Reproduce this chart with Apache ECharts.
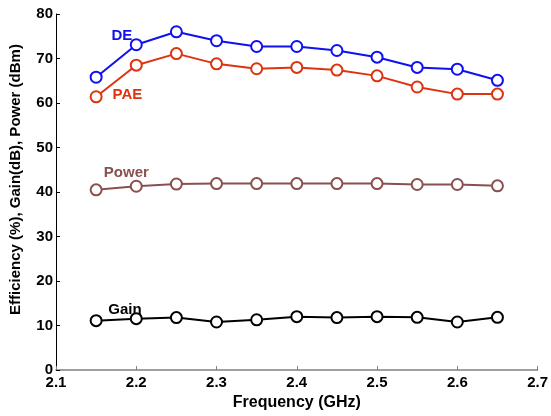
<!DOCTYPE html>
<html>
<head>
<meta charset="utf-8">
<script src="https://cdn.jsdelivr.net/npm/echarts@6/dist/echarts.min.js"></script>
<style>
  html, body { margin: 0; padding: 0; background: #fff; }
  #chart { width: 551px; height: 416px; }
</style>
</head>
<body>
<div id="chart"></div>
<script>
// frequency points (GHz)
const freq = [2.15, 2.2, 2.25, 2.3, 2.35, 2.4, 2.45, 2.5, 2.55, 2.6, 2.65];
// series values
const de    = [65.8, 73.1, 76.0, 74.0, 72.7, 72.7, 71.8, 70.3, 68.0, 67.6, 65.1];
const pae   = [61.4, 68.5, 71.1, 68.8, 67.7, 68.0, 67.4, 66.1, 63.6, 62.0, 62.0];
const power = [40.5, 41.3, 41.8, 41.9, 41.9, 41.9, 41.9, 41.9, 41.7, 41.7, 41.4];
const gain  = [11.1, 11.55, 11.8, 10.8, 11.3, 12.0, 11.8, 12.0, 11.85, 10.8, 11.85];

const seriesNames = ['DE', 'PAE', 'Power', 'Gain'];
const seriesColors = ['#1010f0', '#dd3410', '#8a5050', '#000000'];
// where each in-plot label sits, in data units [freq, value]
const labelPos = [[2.182, 75.2], [2.189, 61.8], [2.1876, 44.4], [2.186, 13.6]];

const font = '"Liberation Sans", Arial, sans-serif';
const chart = echarts.init(document.getElementById('chart'));

const makeSeries = (data, i) => ({
  name: seriesNames[i],
  type: 'line',
  data: freq.map((f, k) => [f, data[k]]),
  symbol: 'emptyCircle',
  symbolSize: 11,
  lineStyle: { width: 2, color: seriesColors[i] },
  itemStyle: { color: seriesColors[i], borderWidth: 2 },
  markPoint: {
    symbol: 'circle',
    symbolSize: 0,
    data: [{ coord: labelPos[i] }],
    label: {
      show: true,
      formatter: seriesNames[i],
      color: seriesColors[i],
      fontFamily: font,
      fontWeight: 'bold',
      fontSize: 15
    }
  },
  z: 4 - i
});

chart.setOption({
  animation: false,
  grid: { left: 56, right: 12, top: 14, bottom: 44 },
  xAxis: {
    type: 'value',
    min: 2.1,
    max: 2.7,
    interval: 0.1,
    name: 'Frequency (GHz)',
    nameLocation: 'middle',
    nameGap: 23,
    nameTextStyle: { fontFamily: font, fontWeight: 'bold', fontSize: 16, color: '#000', verticalAlign: 'top' },
    axisLine: { lineStyle: { color: '#808080', width: 1.5 } },
    axisTick: { inside: true, length: 4, lineStyle: { color: '#808080' } },
    axisLabel: {
      margin: 5,
      fontFamily: font, fontWeight: 'bold', fontSize: 15, color: '#000',
      formatter: v => v.toFixed(1)
    },
    splitLine: { show: false }
  },
  yAxis: {
    type: 'value',
    min: 0,
    max: 80,
    interval: 10,
    name: 'Efficiency (%), Gain(dB), Power (dBm)',
    nameLocation: 'middle',
    nameGap: 33,
    nameTextStyle: { fontFamily: font, fontWeight: 'bold', fontSize: 15, color: '#000', padding: [0, 0, 0, 25] },
    axisLine: { show: true, lineStyle: { color: '#000', width: 1 } },
    axisTick: { show: true, inside: true, length: 4, lineStyle: { color: '#000' } },
    axisLabel: { margin: 3, fontFamily: font, fontWeight: 'bold', fontSize: 15, color: '#000' },
    splitLine: { show: false }
  },
  series: [de, pae, power, gain].map(makeSeries)
});
</script>
</body>
</html>
